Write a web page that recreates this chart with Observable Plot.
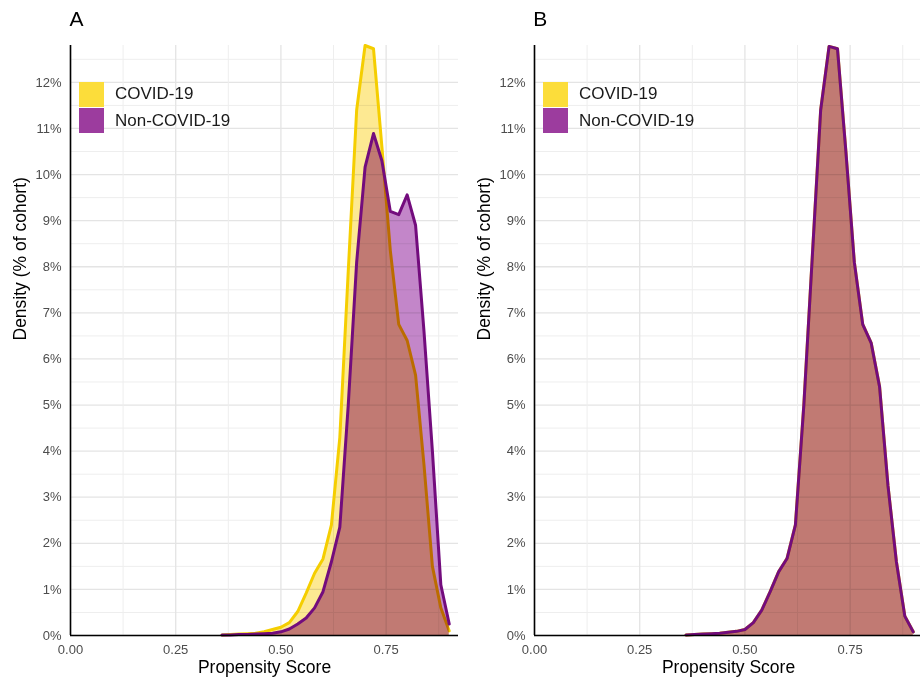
<!DOCTYPE html>
<html>
<head>
<meta charset="utf-8">
<script src="https://cdn.jsdelivr.net/npm/d3@7"></script>
<script src="https://cdn.jsdelivr.net/npm/@observablehq/plot@0.6"></script>
<style>
  html, body { margin: 0; padding: 0; background: #fff; }
  #wrap { position: relative; width: 920px; height: 679px; overflow: hidden; background: #fff;
          font-family: "Liberation Sans", Arial, sans-serif; }
  .panel { position: absolute; top: 0; }
  .panel svg { max-width: none !important; }
  .legend { position: absolute; font-size: 17px; color: #1a1a1a; }
  .legend .row { display: flex; align-items: center; height: 26.5px; }
  .legend .sw { width: 25px; height: 25px; margin-right: 11px; }
</style>
</head>
<body>
<div id="wrap"></div>
<script>
// ---- data ----
const xBins = [0.36,0.38,0.40,0.42,0.44,0.46,0.48,0.50,0.52,0.54,0.56,0.58,0.60,0.62,
               0.64,0.66,0.68,0.70,0.72,0.74,0.76,0.78,0.80,0.82,0.84,0.86,0.88,0.90];
// Panel A (before matching)
const covidA    = [0.01,0.02,0.03,0.04,0.05,0.08,0.13,0.18,0.28,0.52,0.92,1.35,1.66,2.4,
                   4.3,7.9,11.4,12.8,12.73,10.6,8.35,6.75,6.4,5.65,3.7,1.5,0.6,0.1];
const nonCovidA = [0.01,0.01,0.02,0.02,0.03,0.04,0.05,0.08,0.14,0.25,0.38,0.6,0.95,1.6,
                   2.35,5.0,8.1,10.16,10.89,10.3,9.2,9.13,9.56,8.9,6.6,4.0,1.1,0.25];
// Panel B (after matching)
const covidB    = [0.01,0.02,0.03,0.04,0.05,0.07,0.09,0.13,0.28,0.55,0.95,1.38,1.67,2.4,
                   5.0,8.2,11.4,12.78,12.73,10.5,8.1,6.75,6.35,5.4,3.25,1.6,0.42,0.08];
const nonCovidB = [0.01,0.02,0.03,0.04,0.05,0.07,0.09,0.13,0.28,0.55,0.95,1.38,1.67,2.4,
                   5.0,8.2,11.4,12.78,12.73,10.5,8.1,6.75,6.35,5.4,3.25,1.6,0.42,0.08];

const seriesNames = ["COVID-19", "Non-COVID-19"];
const panelTitles = ["A", "B"];
const xTicks = [0, 0.25, 0.5, 0.75];
const xMinorTicks = [0.125, 0.375, 0.625, 0.875];
const yTicks = [0,1,2,3,4,5,6,7,8,9,10,11,12];
const yMinorTicks = [0.5,1.5,2.5,3.5,4.5,5.5,6.5,7.5,8.5,9.5,10.5,11.5,12.5];
const xLabel = "Propensity Score";
const yLabel = "Density (% of cohort)";

// ---- styling ----
const FONT = "'Liberation Sans', Arial, sans-serif";
const yellowFill = "#FDE992", yellowStroke = "#F5CE00", yellowKey = "#FCDD3A";
const purpleFill = "#C386C9", purpleStroke = "#730C7D", purpleKey = "#9C3C9E";

function panel(title, covid, nonCovid, marginLeft, marginRight, width, titleDx) {
  const cData = xBins.map((x, i) => ({x, y: covid[i]}));
  const nData = xBins.map((x, i) => ({x, y: nonCovid[i]}));
  const major = "#e4e4e4", minor = "#eeeeee";
  return Plot.plot({
    width, height: 679,
    marginLeft, marginRight, marginTop: 45, marginBottom: 44,
    style: {fontFamily: FONT, fontSize: "13px", color: "#4d4d4d", background: "transparent", overflow: "visible", maxWidth: "none"},
    x: {domain: [0, 0.922]},
    y: {domain: [0, 12.8]},
    marks: [
      Plot.gridY(yMinorTicks, {stroke: minor, strokeOpacity: 1, strokeWidth: 1}),
      Plot.gridY(yTicks, {stroke: major, strokeOpacity: 1, strokeWidth: 1.3}),
      Plot.gridX(xMinorTicks, {stroke: minor, strokeOpacity: 1, strokeWidth: 1}),
      Plot.gridX(xTicks, {stroke: major, strokeOpacity: 1, strokeWidth: 1.3}),
      Plot.areaY(cData, {x: "x", y: "y", fill: yellowFill, mixBlendMode: "multiply"}),
      Plot.lineY(cData, {x: "x", y: "y", stroke: yellowStroke, strokeWidth: 3}),
      Plot.areaY(nData, {x: "x", y: "y", fill: purpleFill, mixBlendMode: "multiply"}),
      Plot.lineY(nData, {x: "x", y: "y", stroke: purpleStroke, strokeWidth: 3}),
      Plot.axisX({ticks: xTicks, tickFormat: d3.format(".2f"), tickSize: 0, tickPadding: 9, label: null}),
      Plot.axisY({ticks: yTicks, tickFormat: d => d + "%", tickSize: 0, tickPadding: 9, label: null}),
      Plot.ruleX([0], {stroke: "#000", strokeWidth: 1.6}),
      Plot.ruleY([0], {stroke: "#000", strokeWidth: 1.6}),
      Plot.text([yLabel], {frameAnchor: "left", lineAnchor: "middle", rotate: -90, dx: -50, fontSize: 17.5, fill: "#000"}),
      Plot.text([xLabel], {frameAnchor: "bottom", lineAnchor: "middle", dy: 31.5, fontSize: 17.5, fill: "#000"}),
      Plot.text([title], {frameAnchor: "top-left", lineAnchor: "middle", textAnchor: "start", dx: titleDx, dy: -26.7, fontSize: 21, fill: "#000"})
    ]
  });
}

const wrap = document.getElementById("wrap");
const panels = [
  {left: 0, ml: 70, mr: 2, w: 460, covid: covidA, non: nonCovidA, legendLeft: 79, tdx: -1},
  {left: 460, ml: 74, mr: 0, w: 462, covid: covidB, non: nonCovidB, legendLeft: 543, tdx: -1.3}
];
panels.forEach((p, i) => {
  const div = document.createElement("div");
  div.className = "panel";
  div.style.left = p.left + "px";
  div.style.width = p.w + "px";
  const chart = panel(panelTitles[i], p.covid, p.non, p.ml, p.mr, p.w, p.tdx);
  d3.select(chart).selectAll("g[aria-label='area'] path").style("mix-blend-mode", "multiply");
  div.appendChild(chart);
  wrap.appendChild(div);

  const lg = document.createElement("div");
  lg.className = "legend";
  lg.style.left = p.legendLeft + "px";
  lg.style.top = "81px";
  [yellowKey, purpleKey].forEach((c, j) => {
    const row = document.createElement("div");
    row.className = "row";
    const sw = document.createElement("div");
    sw.className = "sw";
    sw.style.background = c;
    const tx = document.createElement("span");
    tx.textContent = seriesNames[j];
    row.appendChild(sw);
    row.appendChild(tx);
    lg.appendChild(row);
  });
  wrap.appendChild(lg);
});
</script>
</body>
</html>
